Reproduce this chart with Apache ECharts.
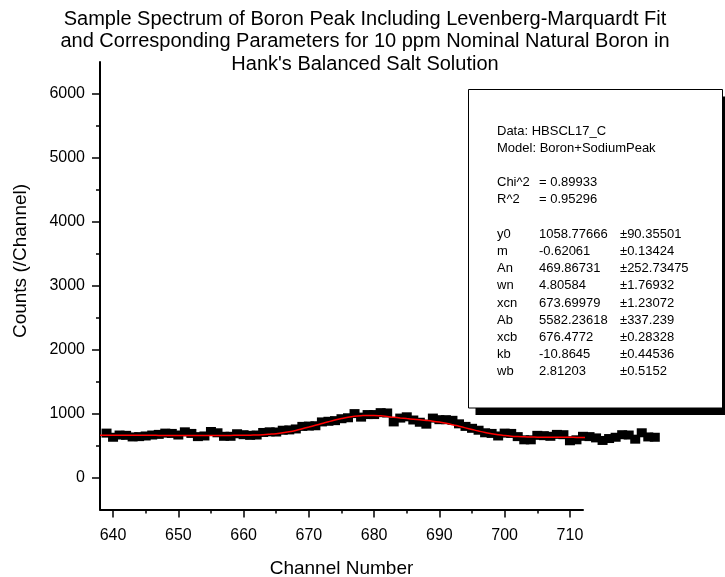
<!DOCTYPE html>
<html>
<head>
<meta charset="utf-8">
<script src="https://cdn.jsdelivr.net/npm/echarts@6/dist/echarts.min.js"></script>
<style>
  html, body { margin: 0; padding: 0; background: #ffffff; }
  #chart { width: 725px; height: 577px; }
</style>
</head>
<body>
<div id="chart"></div>
<script>
// Measured spectrum: counts per channel, one value per channel starting at firstChannel
const firstChannel = 639;
const counts = [
  695, 630, 665, 660, 635, 640, 650, 665, 675, 695,
  690, 665, 715, 690, 640, 650, 720, 700, 645, 645,
  685, 670, 660, 665, 705, 715, 712, 740, 745, 760,
  800, 805, 810, 870, 880, 890, 920, 935, 1000, 945,
  985, 985, 1015, 1010, 870, 930, 950, 900, 865, 835,
  930, 905, 905, 895, 840, 800, 770, 740, 700, 690,
  650, 695, 690, 640, 590, 590, 660, 655, 645, 675,
  670, 575, 590, 645, 640, 620, 580, 610, 630, 670,
  665, 600, 700, 635, 630
];

// Levenberg-Marquardt fit curve, one value per channel starting at fitFirstChannel
const fitFirstChannel = 638;
const fitCounts = [
  662, 662, 661, 661, 661, 660, 660, 660, 660, 659,
  659, 659, 659, 658, 658, 658, 658, 658, 658, 658,
  659, 660, 661, 663, 666, 670, 677, 686, 699, 716,
  737, 762, 789, 817, 845, 873, 899, 922, 942, 957,
  967, 972, 971, 965, 955, 943, 932, 922, 913, 904,
  894, 882, 867, 849, 827, 802, 777, 752, 727, 704,
  684, 668, 656, 647, 641, 637, 634, 632, 631, 630,
  630, 629, 629, 628, 628, 627, 627, 626, 626, 625,
  625, 624, 624, 623, 623
];

// Axis ticks
const xMajorTicks = [640, 650, 660, 670, 680, 690, 700, 710];
const xMinorTicks = [645, 655, 665, 675, 685, 695, 705];
const yMajorTicks = [0, 1000, 2000, 3000, 4000, 5000, 6000];
const yMinorTicks = [500, 1500, 2500, 3500, 4500, 5500];

// Texts
const titleLines = [
  'Sample Spectrum of Boron Peak Including Levenberg-Marquardt Fit',
  'and Corresponding Parameters for 10 ppm Nominal Natural Boron in',
  "Hank's Balanced Salt Solution"
];
const xAxisTitle = 'Channel Number';
const yAxisTitle = 'Counts (/Channel)';

// Fit report
const fitHeader = ['Data: HBSCL17_C', 'Model: Boron+SodiumPeak'];
const statNames = ['Chi^2', 'R^2'];
const statValues = ['= 0.89933', '= 0.95296'];
const paramNames = ['y0', 'm', 'An', 'wn', 'xcn', 'Ab', 'xcb', 'kb', 'wb'];
const paramValues = ['1058.77666', '-0.62061', '469.86731', '4.80584', '673.69979',
                     '5582.23618', '676.4772', '-10.8645', '2.81203'];
const paramErrors = ['±90.35501', '±0.13424', '±252.73475', '±1.76932', '±1.23072',
                     '±337.239', '±0.28328', '±0.44536', '±0.5152'];

const FONT = '"Liberation Sans", Arial, Helvetica, sans-serif';

const spectrum = counts.map((v, i) => [firstChannel + i, v]);
const fitLine = fitCounts.map((v, i) => [fitFirstChannel + i, v]);

// Fit report box (white panel with a drop shadow)
const box = { x: 468.5, y: 89.5, w: 254, h: 318.5, shadow: 7 };
const col1 = 497, col2 = 539, col3 = 620;
const rowTop = 131, rowStep = 17.2;
const reportFont = '13px ' + FONT;

function reportText(x, row, text) {
  return {
    type: 'text',
    x: x,
    y: rowTop + row * rowStep,
    z: 102,
    style: {
      text: text,
      fill: '#000',
      font: reportFont,
      textAlign: 'left',
      verticalAlign: 'middle',
      textVerticalAlign: 'middle'
    }
  };
}

const reportElements = [
  {
    type: 'rect', z: 100,
    shape: { x: box.x + box.shadow, y: box.y + box.shadow, width: box.w, height: box.h },
    style: { fill: '#000' }
  },
  {
    type: 'rect', z: 101,
    shape: { x: box.x, y: box.y, width: box.w, height: box.h },
    style: { fill: '#fff', stroke: '#000', lineWidth: 1 }
  }
];
fitHeader.forEach((t, i) => reportElements.push(reportText(col1, i, t)));
statNames.forEach((t, i) => {
  reportElements.push(reportText(col1, 3 + i, t));
  reportElements.push(reportText(col2, 3 + i, statValues[i]));
});
paramNames.forEach((t, i) => {
  reportElements.push(reportText(col1, 6 + i, t));
  reportElements.push(reportText(col2, 6 + i, paramValues[i]));
  reportElements.push(reportText(col3, 6 + i, paramErrors[i]));
});

// Vertical axis title
reportElements.push({
  type: 'text',
  x: 21,
  y: 261,
  rotation: Math.PI / 2,
  style: {
    text: yAxisTitle,
    fill: '#000',
    font: '19px ' + FONT,
    textAlign: 'center',
    verticalAlign: 'middle',
    textVerticalAlign: 'middle'
  }
});

const chart = echarts.init(document.getElementById('chart'), null, { renderer: 'canvas' });

const axisLineStyle = { color: '#000', width: 2 };
const tickStyle = { color: '#000', width: 1.5 };
const labelStyle = { color: '#000', fontSize: 16, fontFamily: FONT, formatter: v => String(v) };

chart.setOption({
  animation: false,
  backgroundColor: '#fff',
  title: {
    text: titleLines.join('\n'),
    left: 360,
    top: 3,
    textAlign: 'center',
    textStyle: {
      fontFamily: FONT,
      fontSize: 20,
      fontWeight: 'normal',
      color: '#000',
      lineHeight: 22.5
    }
  },
  grid: {
    left: 100, right: 142, top: 62, bottom: 67.5,
    containLabel: false,
    outerBoundsMode: 'none'
  },
  xAxis: [
    {
      type: 'value', min: 638, max: 712, position: 'bottom',
      axisLine: { show: true, onZero: false, lineStyle: axisLineStyle },
      axisTick: { show: true, customValues: xMajorTicks, length: 8, lineStyle: tickStyle },
      axisLabel: Object.assign({ customValues: xMajorTicks, margin: 18 }, labelStyle),
      splitLine: { show: false },
      name: xAxisTitle,
      nameLocation: 'middle',
      nameGap: 50,
      nameTextStyle: { fontFamily: FONT, fontSize: 19, color: '#000' }
    },
    {
      type: 'value', min: 638, max: 712, position: 'bottom',
      axisLine: { show: false, onZero: false },
      axisTick: { show: true, customValues: xMinorTicks, length: 4, lineStyle: tickStyle },
      axisLabel: { show: false },
      splitLine: { show: false }
    }
  ],
  yAxis: [
    {
      type: 'value', min: -500, max: 6500, position: 'left',
      axisLine: { show: true, onZero: false, lineStyle: axisLineStyle },
      axisTick: { show: true, customValues: yMajorTicks, length: 8, lineStyle: tickStyle },
      axisLabel: Object.assign({ customValues: yMajorTicks, margin: 15 }, labelStyle),
      splitLine: { show: false }
    },
    {
      type: 'value', min: -500, max: 6500, position: 'left',
      axisLine: { show: false, onZero: false },
      axisTick: { show: true, customValues: yMinorTicks, length: 4, lineStyle: tickStyle },
      axisLabel: { show: false },
      splitLine: { show: false }
    }
  ],
  series: [
    {
      name: 'Counts',
      type: 'scatter',
      xAxisIndex: 0, yAxisIndex: 0,
      data: spectrum,
      symbol: 'rect',
      symbolSize: [10, 9],
      clip: false,
      itemStyle: { color: '#000', opacity: 1 },
      z: 2
    },
    {
      name: 'Fit',
      type: 'line',
      xAxisIndex: 0, yAxisIndex: 0,
      data: fitLine,
      showSymbol: false,
      symbol: 'none',
      clip: false,
      smooth: true,
      lineStyle: { color: '#ff0000', width: 1.5 },
      z: 3
    }
  ],
  graphic: reportElements
});
</script>
</body>
</html>
